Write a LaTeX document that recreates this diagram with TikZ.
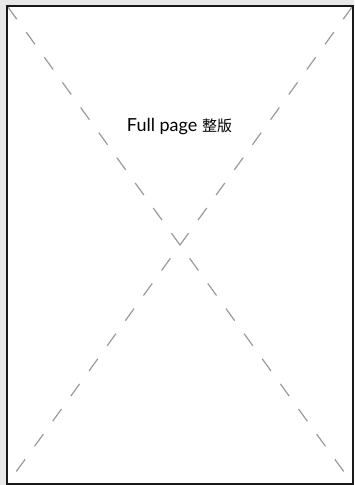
\documentclass[tikz,border=0pt]{standalone}
\usepackage{fontspec}
\setmainfont{Lato}
\newfontfamily\cjk{Noto Sans CJK SC}
\definecolor{pagebg}{HTML}{E8E8E8}
\definecolor{crossgray}{HTML}{9A9A9A}
\begin{document}
\begin{tikzpicture}[x=1pt,y=-1pt]
  \fill[pagebg] (0,0) rectangle (354,485);
  \useasboundingbox (0,0) rectangle (354,485);
   \pgfmathsetmacro{\gauche}{7}
   \pgfmathsetmacro{\haut}{6}
   \pgfmathsetmacro{\droite}{353}
   \pgfmathsetmacro{\bas}{484}
  \fill[white] (\gauche,\haut) rectangle (\droite,\bas);
  \coordinate (hg) at (\gauche+1,\haut+1);
  \coordinate (hd) at (\droite-1,\haut+1);
  \coordinate (bg) at (\gauche+1,\bas-1);
  \coordinate (bd) at (\droite-1,\bas-1);
  \draw[crossgray,line width=1.2pt,dash pattern=on 15pt off 16pt] (hg) -- (bd);
  \draw[crossgray,line width=1.2pt,dash pattern=on 15pt off 16pt] (hd) -- (bg);
  \draw[line width=2pt,color=black!90] (\gauche,\haut) rectangle (\droite,\bas);
  \node[inner sep=0pt,font=\fontsize{18}{21}\selectfont] (titre) at (179.5,127) {Full page {\cjk\fontsize{15}{18}\selectfont 整版}};
\end{tikzpicture}
\end{document}
